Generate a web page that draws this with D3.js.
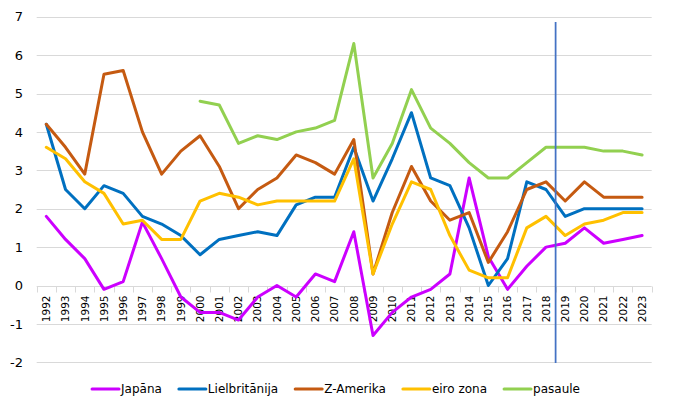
<!DOCTYPE html>
<html>
<head>
<meta charset="utf-8">
<script src="https://cdn.jsdelivr.net/npm/d3@7"></script>
<style>
  html, body { margin: 0; padding: 0; background: #fff; }
  svg { display: block; font-family: "DejaVu Sans", Verdana, sans-serif; }
</style>
</head>
<body>
<svg id="chart" width="674" height="411"></svg>
<script>
const years = ["1992","1993","1994","1995","1996","1997","1998","1999","2000","2001","2002","2003","2004","2005","2006","2007","2008","2009","2010","2011","2012","2013","2014","2015","2016","2017","2018","2019","2020","2021","2022","2023"];
const yTicks = [-2, -1, 0, 1, 2, 3, 4, 5, 6, 7];
const forecastStart = "2019";

const japana =        [1.8, 1.2, 0.7, -0.1, 0.1, 1.65, 0.7, -0.3, -0.7, -0.7, -0.9, -0.3, 0.0, -0.3, 0.3, 0.1, 1.4, -1.3, -0.7, -0.3, -0.1, 0.3, 2.8, 0.75, -0.1, 0.5, 1.0, 1.1, 1.5, 1.1, 1.2, 1.3];
const lielbritanija = [4.2, 2.5, 2.0, 2.6, 2.4, 1.8, 1.6, 1.3, 0.8, 1.2, 1.3, 1.4, 1.3, 2.1, 2.3, 2.3, 3.6, 2.2, 3.3, 4.5, 2.8, 2.6, 1.5, 0.0, 0.7, 2.7, 2.5, 1.8, 2.0, 2.0, 2.0, 2.0];
const zAmerika =      [4.2, 3.6, 2.9, 5.5, 5.6, 4.0, 2.9, 3.5, 3.9, 3.1, 2.0, 2.5, 2.8, 3.4, 3.2, 2.9, 3.8, 0.3, 1.9, 3.1, 2.2, 1.7, 1.9, 0.6, 1.4, 2.5, 2.7, 2.2, 2.7, 2.3, 2.3, 2.3];
const eiroZona =      [3.6, 3.3, 2.7, 2.4, 1.6, 1.7, 1.2, 1.2, 2.2, 2.4, 2.3, 2.1, 2.2, 2.2, 2.2, 2.2, 3.3, 0.3, 1.6, 2.7, 2.5, 1.3, 0.4, 0.2, 0.2, 1.5, 1.8, 1.3, 1.6, 1.7, 1.9, 1.9];
const pasaule =       [null, null, null, null, null, null, null, null, 4.8, 4.7, 3.7, 3.9, 3.8, 4.0, 4.1, 4.3, 6.3, 2.8, 3.7, 5.1, 4.1, 3.7, 3.2, 2.8, 2.8, 3.2, 3.6, 3.6, 3.6, 3.5, 3.5, 3.4];

const seriesNames = ["Japāna", "Lielbritānija", "Z-Amerika", "eiro zona", "pasaule"];
const seriesValues = [japana, lielbritanija, zAmerika, eiroZona, pasaule];
const colors = ["#CC00FF", "#0070C0", "#C55A11", "#FFC000", "#92D050"];

const svg = d3.select("#chart");
const W = 674;
const plot = { left: 36.7, right: 651.7, top: 16.7, bottom: 362.3 };

const x = d3.scaleBand().domain(years).range([plot.left, plot.right]).paddingInner(0).paddingOuter(0);
const y = d3.scaleLinear().domain([-2, 7]).range([plot.bottom, plot.top]);

// gridlines
svg.append("g").selectAll("line").data(yTicks).join("line")
  .attr("x1", plot.left).attr("x2", plot.right)
  .attr("y1", d => Math.round(y(d)) + 0.5).attr("y2", d => Math.round(y(d)) + 0.5)
  .attr("stroke", "#D9D9D9").attr("stroke-width", 1);

// y labels
svg.append("g").selectAll("text").data(yTicks).join("text")
  .attr("x", 23).attr("y", d => y(d))
  .attr("dy", "0.36em")
  .attr("text-anchor", "end")
  .attr("font-size", 13)
  .attr("fill", "#000")
  .text(d => d);

// category axis at zero
const y0 = Math.round(y(0)) + 0.5;
const boundaries = years.map(d => x(d)).concat([x(years[years.length - 1]) + x.bandwidth()]);
svg.append("g").selectAll("line").data(boundaries).join("line")
  .attr("x1", d => Math.round(d) + 0.5).attr("x2", d => Math.round(d) + 0.5)
  .attr("y1", y0).attr("y2", y0 + 6)
  .attr("stroke", "#D9D9D9").attr("stroke-width", 1);

svg.append("g").selectAll("text").data(years).join("text")
  .attr("transform", d => `translate(${x(d) + x.bandwidth() / 2},${y0 + 9}) rotate(-90)`)
  .attr("text-anchor", "end")
  .attr("dy", "0.36em")
  .attr("font-size", 10.5)
  .attr("fill", "#000")
  .text(d => d);

// lines
const line = d3.line()
  .defined(d => d.v !== null)
  .x(d => x(d.year) + x.bandwidth() / 2)
  .y(d => y(d.v));

seriesValues.forEach((vals, i) => {
  const data = years.map((yr, j) => ({ year: yr, v: vals[j] }));
  svg.append("path")
    .datum(data)
    .attr("d", line)
    .attr("fill", "none")
    .attr("stroke", colors[i])
    .attr("stroke-width", 3)
    .attr("stroke-linejoin", "round")
    .attr("stroke-linecap", "round");
});

// forecast divider
const xf = x(forecastStart);
svg.append("line")
  .attr("x1", xf).attr("x2", xf)
  .attr("y1", 22).attr("y2", 363)
  .attr("stroke", "#4472C4").attr("stroke-width", 1.75);

// legend
const legend = svg.append("g");
let cx = 0;
const items = [];
seriesNames.forEach((name, i) => {
  const g = legend.append("g");
  g.append("line").attr("x1", 0).attr("x2", 27).attr("y1", 389).attr("y2", 389)
    .attr("stroke", colors[i]).attr("stroke-width", 3).attr("stroke-linecap", "round");
  const t = g.append("text").attr("x", 29).attr("y", 389).attr("dy", "0.36em")
    .attr("font-size", 12).attr("fill", "#000").text(name);
  const w = 29 + t.node().getComputedTextLength();
  g.attr("transform", `translate(${cx},0)`);
  cx += w + 17;
});
const totalW = cx - 17;
legend.attr("transform", `translate(${(W - totalW) / 2 - 1},0)`);
</script>
</body>
</html>
